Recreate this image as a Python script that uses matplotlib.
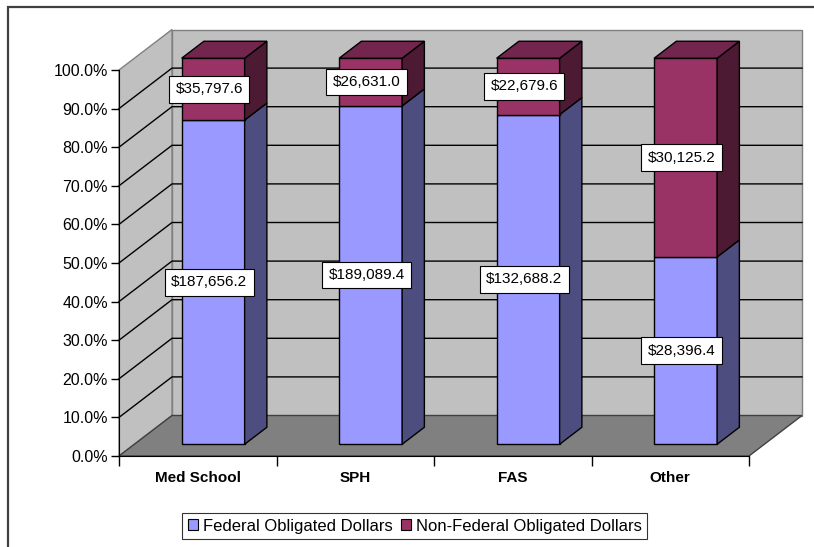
import matplotlib
matplotlib.use("Agg")
import matplotlib.pyplot as plt
from matplotlib.patches import Polygon, Rectangle, Patch

plt.rcParams['font.family'] = ['Liberation Sans', 'DejaVu Sans']

# data (thousands of dollars)
categories = ['Med School', 'SPH', 'FAS', 'Other']
federal = [187656.2, 189089.4, 132688.2, 28396.4]
non_federal = [35797.6, 26631.0, 22679.6, 30125.2]
series_names = ['Federal Obligated Dollars', 'Non-Federal Obligated Dollars']
y_ticks = [0, 10, 20, 30, 40, 50, 60, 70, 80, 90, 100]

# oblique depth of the chart box, in data units (categories / percent)
DX = 53 / 157.5
DY = 40.5 / 3.86
BAR_W = 0.4
Z0, Z1 = 0.29, 0.71

front_cols = ['#9999FF', '#993366']
side_cols = ['#4D4D80', '#4D1A33']
top_cols = ['#7373BF', '#73264D']


def proj(x, y, z):
    return (x + z * DX, y + z * DY)


def face(ax, pts, fc, ec='black', lw=1.0, z=2):
    ax.add_patch(Polygon([proj(*p) for p in pts], closed=True, facecolor=fc,
                         edgecolor=ec, linewidth=lw, clip_on=False, zorder=z))


fig = plt.figure(figsize=(8.14, 5.47), dpi=100)
ax = fig.add_axes([119 / 814, (547 - 456) / 547, 630 / 814, 386 / 547])
ax.set_xlim(0, 4)
ax.set_ylim(0, 100)
ax.patch.set_visible(False)

n = len(categories)
wall_grey = '#C0C0C0'
edge_grey = '#808080'

# back wall, side wall, floor
face(ax, [(0, 0, 1), (n, 0, 1), (n, 100, 1), (0, 100, 1)], wall_grey, ec=edge_grey, z=1)
face(ax, [(0, 0, 0), (0, 0, 1), (0, 100, 1), (0, 100, 0)], wall_grey, ec=edge_grey, z=1)
face(ax, [(0, 0, 0), (n, 0, 0), (n, 0, 1), (0, 0, 1)], '#808080', ec='#404040', z=1.1)

# gridlines on walls
for v in y_ticks[1:-1]:
    xs, ys = zip(proj(0, v, 0), proj(0, v, 1), proj(n, v, 1))
    ax.plot(xs, ys, color='black', linewidth=1.0, clip_on=False, zorder=1.2)

# stacked 100% bars
for i in range(n):
    total = federal[i] + non_federal[i]
    parts = [federal[i] / total * 100, non_federal[i] / total * 100]
    vals = [federal[i], non_federal[i]]
    x0 = i + 0.5 - BAR_W / 2
    x1 = i + 0.5 + BAR_W / 2
    base = 0
    for k in range(2):
        top = base + parts[k]
        face(ax, [(x0, base, Z0), (x1, base, Z0), (x1, top, Z0), (x0, top, Z0)], front_cols[k])
        face(ax, [(x1, base, Z0), (x1, base, Z1), (x1, top, Z1), (x1, top, Z0)], side_cols[k])
        if k == 1:
            face(ax, [(x0, top, Z0), (x1, top, Z0), (x1, top, Z1), (x0, top, Z1)], top_cols[k])
        lx, ly = proj(i + 0.5, (base + top) / 2, Z0)
        ax.text(lx - 0.025, ly, f'${vals[k]:,.1f}', ha='center', va='center', fontsize=11,
                zorder=5, bbox=dict(boxstyle='square,pad=0.42', facecolor='white',
                                    edgecolor='black', linewidth=0.8))
        base = top

# axes styling
for s in ['top', 'right']:
    ax.spines[s].set_visible(False)
ax.spines['left'].set_zorder(3)
ax.spines['bottom'].set_zorder(3)
ax.set_yticks(y_ticks)
ax.set_yticklabels([f'{v:.1f}%' for v in y_ticks], fontsize=11.5)
ax.tick_params(axis='y', length=6, width=1, pad=2, direction='out')
ax.set_xticks(range(n + 1))
ax.set_xticklabels([])
ax.tick_params(axis='x', which='major', length=7, width=1, direction='out')
ax.set_xticks([i + 0.5 for i in range(n)], minor=True)
ax.set_xticklabels(categories, minor=True, fontsize=11, fontweight='bold')
ax.tick_params(axis='x', which='minor', length=0, pad=11)

# legend
handles = [Patch(facecolor=front_cols[k], edgecolor='black', linewidth=0.8) for k in range(2)]
leg = fig.legend(handles, series_names, loc='center', bbox_to_anchor=(414.5 / 814, 1 - 526 / 547),
                 ncol=2, fontsize=12, frameon=True, fancybox=False, handlelength=0.6,
                 handleheight=0.6, handletextpad=0.3, columnspacing=0.5, borderpad=0.35,
                 borderaxespad=0)
leg.get_frame().set_edgecolor('black')
leg.get_frame().set_linewidth(0.8)

# outer chart frame
fig.add_artist(Rectangle((8 / 814, -0.1), 1.2, 1 - 6.5 / 547 + 0.1, transform=fig.transFigure,
                         fill=False, edgecolor='#404040', linewidth=1.6))

fig.savefig('out.png', dpi=100)
